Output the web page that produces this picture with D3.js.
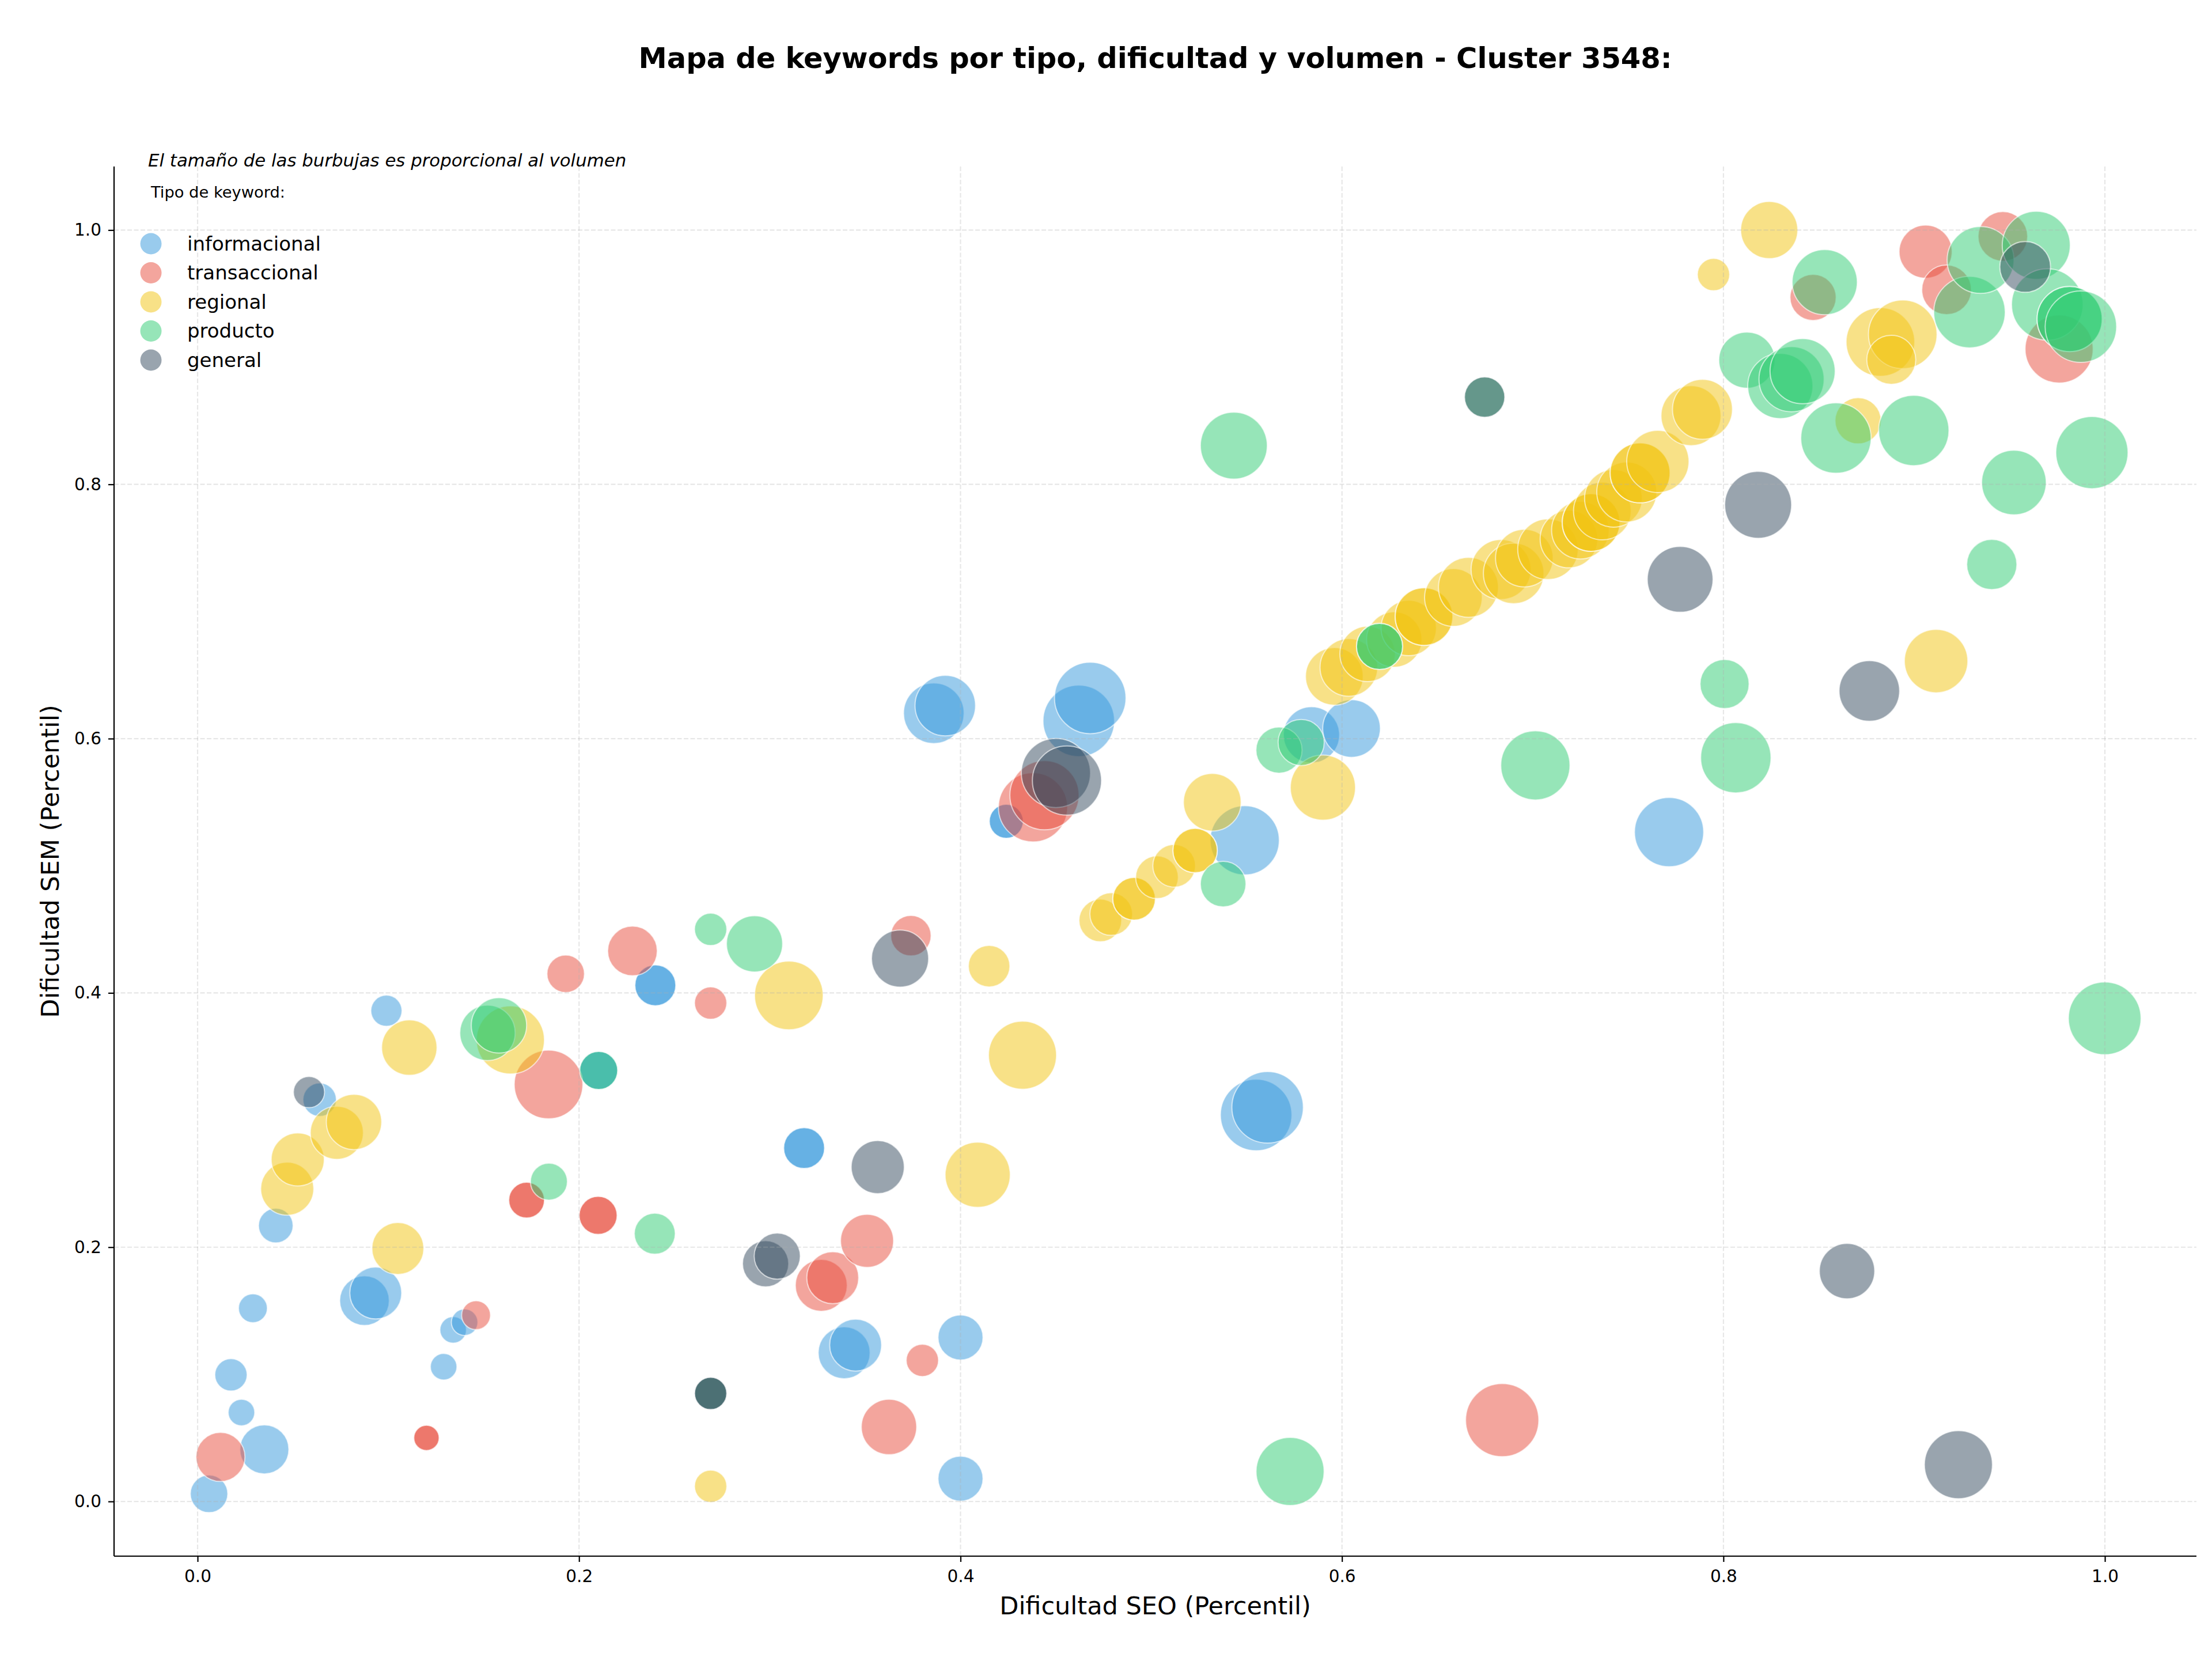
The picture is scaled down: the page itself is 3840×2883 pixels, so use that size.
<!DOCTYPE html>
<html>
<head>
<meta charset="utf-8">
<script src="https://cdn.jsdelivr.net/npm/d3@7"></script>
<style>
  html, body { margin: 0; padding: 0; background: #fff; }
  text { font-family: "DejaVu Sans", sans-serif; fill: #000; }
</style>
</head>
<body>
<div id="chart"></div>
<script>
const width = 3840;
const height = 2883;
const pageTitle = "Mapa de keywords por tipo, dificultad y volumen - Cluster 3548:";

// keyword types, in the order they are plotted
const tipos = ["informacional", "transaccional", "regional", "producto", "general"];
const colores = ["#3498db", "#e74c3c", "#f1c40f", "#2ecc71", "#34495e"];

const tickValues = [0.0, 0.2, 0.4, 0.6, 0.8, 1.0];

// informacional
const seoInformacional = [0.006,0.035,0.023,0.0175,0.029,0.041,0.064,0.099,0.0875,0.0934,0.134,0.140,0.129,0.240,0.240,0.318,0.318,0.339,0.345,0.400,0.400,0.555,0.561,0.386,0.392,0.462,0.468,0.424,0.424,0.549,0.584,0.605,0.7715,0.2103,0.2103];
const semInformacional = [0.006,0.041,0.070,0.0996,0.152,0.217,0.316,0.386,0.158,0.164,0.135,0.141,0.106,0.406,0.406,0.278,0.278,0.117,0.123,0.129,0.018,0.304,0.310,0.620,0.626,0.614,0.632,0.535,0.535,0.520,0.603,0.608,0.5265,0.339,0.339];
const volInformacional = [1056,1806,529,784,625,900,841,729,1849,2025,529,529,529,1260,1260,1260,1260,2025,2025,1521,1521,3844,3844,2756,2756,3844,3844,870,870,3600,2372,2500,3600,1089,1089];

// transaccional
const seoTransaccional = [0.012,0.146,0.120,0.120,0.1725,0.1725,0.210,0.210,0.184,0.193,0.228,0.269,0.374,0.327,0.333,0.351,0.380,0.3625,0.684,0.438,0.444,0.847,0.906,0.917,0.9465,0.976];
const semTransaccional = [0.035,0.1465,0.050,0.050,0.237,0.237,0.225,0.225,0.328,0.415,0.433,0.392,0.445,0.170,0.176,0.205,0.111,0.0586,0.064,0.546,0.5555,0.947,0.983,0.953,0.995,0.9065];
const volTransaccional = [1806,625,484,484,961,961,1089,1089,3540,1056,1849,784,1225,2025,2025,2116,784,2304,4032,3600,3600,1600,2116,1849,1849,3481];

// regional
const seoRegional = [0.047,0.0525,0.073,0.082,0.111,0.105,0.164,0.269,0.310,0.409,0.4325,0.415,0.4733,0.479,0.491,0.491,0.503,0.512,0.523,0.523,0.532,0.590,0.596,0.6036,0.6134,0.6274,0.635,0.643,0.643,0.6584,0.6663,0.6834,0.690,0.6956,0.708,0.719,0.725,0.7306,0.7306,0.7365,0.7423,0.7493,0.7563,0.7563,0.7656,0.783,0.789,0.7948,0.824,0.8706,0.8823,0.894,0.888,0.9115];
const semRegional = [0.246,0.269,0.290,0.2985,0.357,0.199,0.363,0.012,0.398,0.257,0.351,0.421,0.457,0.462,0.474,0.474,0.491,0.500,0.512,0.512,0.550,0.5615,0.649,0.656,0.6666,0.678,0.687,0.696,0.696,0.711,0.719,0.733,0.730,0.742,0.749,0.757,0.764,0.770,0.770,0.779,0.789,0.794,0.809,0.809,0.818,0.854,0.859,0.965,1.000,0.850,0.912,0.918,0.898,0.661];
const volRegional = [2116,2116,2116,2304,2304,2025,3481,784,3540,3192,3481,1296,1369,1369,1369,1369,1369,1369,1482,1482,2500,3192,2500,2500,2304,2304,2304,2500,2500,2500,2704,2704,2756,2500,2756,2500,2500,2500,2500,2500,2500,2704,2704,2704,2916,2704,2704,784,2450,1600,3540,3540,1806,3025];

// producto
const seoProducto = [0.1842,0.2397,0.152,0.158,0.2103,0.269,0.292,0.5377,0.567,0.5786,0.6197,0.6197,0.5433,0.6748,0.5728,0.7014,0.8065,0.8006,0.9407,0.9523,0.9932,0.8998,0.859,0.8123,0.8298,0.8357,0.8415,0.8531,0.929,0.9348,0.964,0.9698,0.9815,0.9815,0.9874,0.9999,0.269];
const semProducto = [0.2516,0.2106,0.3686,0.3745,0.339,0.450,0.4386,0.4856,0.591,0.597,0.6725,0.6725,0.8305,0.8686,0.0236,0.579,0.585,0.643,0.737,0.8014,0.825,0.8424,0.8364,0.8977,0.8774,0.8827,0.889,0.959,0.9355,0.9765,0.988,0.9415,0.930,0.930,0.924,0.380,0.085];
const volProducto = [1024,1260,2304,2304,1089,784,2372,1560,1600,1600,1600,1600,3364,1225,3481,3600,3721,1806,1892,3136,3919,3721,3721,2372,3192,3192,3192,3192,3844,3364,3481,3844,3192,3192,3844,3969,784];

// general
const seoGeneral = [0.0584,0.2978,0.3039,0.3566,0.3683,0.450,0.4558,0.6748,0.269,0.269,0.7773,0.8182,0.8765,0.8648,0.9232,0.9582];
const semGeneral = [0.322,0.187,0.193,0.263,0.427,0.573,0.567,0.8686,0.085,0.085,0.7253,0.7839,0.6375,0.1812,0.0289,0.971];
const volGeneral = [729,1600,1600,2116,2450,3600,3600,1225,784,784,3249,3364,2756,2304,3481,1936];

const seoPorTipo = [seoInformacional, seoTransaccional, seoRegional, seoProducto, seoGeneral];
const semPorTipo = [semInformacional, semTransaccional, semRegional, semProducto, semGeneral];
const volPorTipo = [volInformacional, volTransaccional, volRegional, volProducto, volGeneral];

// plot area (matplotlib-like axes box)
const margin = {left: 198, right: width - 3813, top: 289, bottom: height - 2701};

const x = d3.scaleLinear().domain([-0.0438, 1.048]).range([margin.left, width - margin.right]);
const y = d3.scaleLinear().domain([-0.043, 1.050]).range([height - margin.bottom, margin.top]);
const r = d3.scaleSqrt().domain([0, 10000]).range([0, 100]); // area proportional to volume

const svg = d3.select("#chart")
    .append("svg")
        .attr("width", width)
        .attr("height", height)

// bubbles, one layer per type, same order as the legend
tipos.forEach((tipo, i) => {
    const puntos = seoPorTipo[i].map((s, j) => ({seo: s, sem: semPorTipo[i][j], vol: volPorTipo[i][j]}))
    svg.append("g")
        .attr("class", "tipo-" + tipo)
        .selectAll("circle")
        .data(puntos)
        .enter()
        .append("circle")
            .attr("cx", d => x(d.seo))
            .attr("cy", d => y(d.sem))
            .attr("r", d => r(d.vol))
            .attr("fill", colores[i])
            .attr("fill-opacity", 0.5)
            .attr("stroke", "#fff")
            .attr("stroke-opacity", 0.6)
            .attr("stroke-width", 2)
})

// dashed grid drawn over the bubbles, like matplotlib does
const grid = svg.append("g").attr("id", "grid")
grid.selectAll(".gx")
    .data(tickValues)
    .enter()
    .append("line")
        .attr("x1", d => x(d)).attr("x2", d => x(d))
        .attr("y1", margin.top).attr("y2", height - margin.bottom)
grid.selectAll(".gy")
    .data(tickValues)
    .enter()
    .append("line")
        .attr("x1", margin.left).attr("x2", width - margin.right)
        .attr("y1", d => y(d)).attr("y2", d => y(d))
grid.selectAll("line")
    .attr("stroke", "#b0b0b0")
    .attr("stroke-opacity", 0.3)
    .attr("stroke-width", 2.2)
    .attr("stroke-dasharray", "8,3.5")

// axes: only left and bottom spines
const xAxis = svg.append("g")
    .attr("transform", "translate(0," + (height - margin.bottom) + ")")
    .call(d3.axisBottom(x).tickValues(tickValues).tickFormat(d3.format(".1f")).tickSizeOuter(0).tickSize(10).tickPadding(14))
const yAxis = svg.append("g")
    .attr("transform", "translate(" + margin.left + ",0)")
    .call(d3.axisLeft(y).tickValues(tickValues).tickFormat(d3.format(".1f")).tickSizeOuter(0).tickSize(10).tickPadding(12))

svg.selectAll(".domain").attr("stroke", "#000").attr("stroke-width", 2.2)
svg.selectAll(".tick line").attr("stroke", "#000").attr("stroke-width", 2.2)
svg.selectAll(".tick text").attr("font-size", 29.5).attr("font-family", "DejaVu Sans")

// x domain line should span the full axes width
xAxis.select(".domain").attr("d", "M" + margin.left + ",0H" + (width - margin.right))
yAxis.select(".domain").attr("d", "M0," + (height - margin.bottom) + "V" + margin.top)

// titles
svg.append("text")
    .attr("x", (margin.left + width - margin.right) / 2)
    .attr("y", 118)
    .attr("text-anchor", "middle")
    .attr("font-size", 49.5)
    .attr("font-weight", "bold")
    .text(pageTitle)

svg.append("text")
    .attr("x", (margin.left + width - margin.right) / 2)
    .attr("y", 2802)
    .attr("text-anchor", "middle")
    .attr("font-size", 43)
    .text("Dificultad SEO (Percentil)")

svg.append("text")
    .attr("transform", "translate(102," + ((margin.top + height - margin.bottom) / 2) + ") rotate(-90)")
    .attr("text-anchor", "middle")
    .attr("font-size", 43)
    .text("Dificultad SEM (Percentil)")

// legend
svg.append("text")
    .attr("x", 257)
    .attr("y", 289)
    .attr("font-size", 30.8)
    .attr("font-style", "italic")
    .text("El tamaño de las burbujas es proporcional al volumen")

svg.append("text")
    .attr("x", 262)
    .attr("y", 343)
    .attr("font-size", 27.3)
    .text("Tipo de keyword:")

const legend = svg.append("g")
    .attr("id", "legend")
    .selectAll("g")
    .data(tipos)
    .enter()
    .append("g")
        .attr("transform", (d, i) => "translate(262," + (423 + i * 50.5) + ")")

legend.append("circle")
    .attr("r", 18.5)
    .attr("fill", (d, i) => colores[i])
    .attr("fill-opacity", 0.5)

legend.append("text")
    .attr("x", 63)
    .attr("dy", "0.35em")
    .attr("font-size", 34)
    .text(d => d)
</script>
</body>
</html>
